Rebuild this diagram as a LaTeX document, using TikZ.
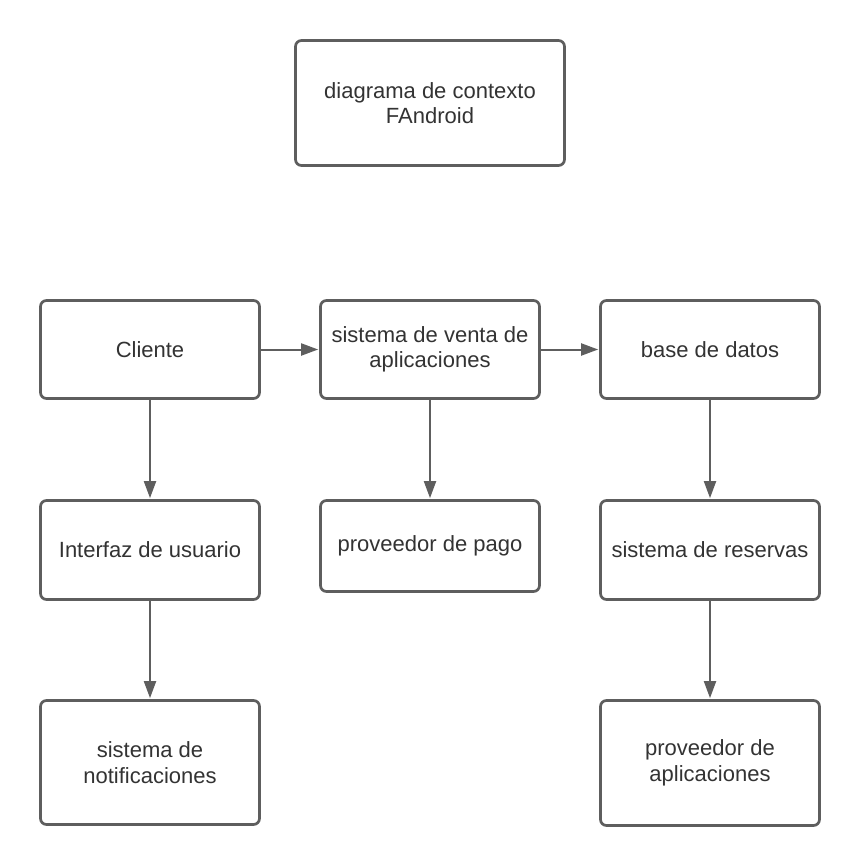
\documentclass[tikz,border=0pt]{standalone}
\usepackage{fontspec}
\setmainfont{Liberation Sans}
\usepackage{tikz}
\usetikzlibrary{arrows.meta,positioning}
\definecolor{boxgray}{HTML}{5E5E5E}
\definecolor{textgray}{HTML}{333333}
\tikzstyle{box} = [draw=boxgray, line width=2.7pt, rounded corners=6pt, fill=white, align=center, text=textgray, inner sep=0pt, minimum width=219pt, minimum height=98pt, font=\fontsize{22}{25.5}\selectfont]
\tikzstyle{flow} = [draw=boxgray, line width=2pt, -{Triangle[length=17pt,width=12pt]}, shorten >=1pt]

\begin{document}
\begin{tikzpicture}[x=1pt,y=-1pt]
    \useasboundingbox (0,0) rectangle (860,866);
    % title
    \node[box, minimum width=269pt, minimum height=125pt] (title) at (430,103) {diagrama de contexto\\FAndroid};
    % top row
    \node[box] (cliente) at (150,349.5) {Cliente};
    \node[box] (venta) at (430,349.5) {sistema de venta de\\aplicaciones};
    \node[box] (datos) at (710,349.5) {base de datos};
    % middle row
    \node[box, minimum height=99pt] (interfaz) at (150,550) {Interfaz de usuario};
    \node[box, minimum height=91pt] (pago) at (430,546) {proveedor de pago};
    \node[box, minimum height=99pt] (reservas) at (710,550) {sistema de reservas};
    % bottom row
    \node[box, minimum height=124pt] (notif) at (150,762.5) {sistema de\\notificaciones};
    \node[box, minimum height=125pt] (provapps) at (710,763) {proveedor de\\aplicaciones};
    \draw[flow] (cliente) -- (venta); \draw[flow] (venta) -- (datos);
    \draw[flow] (cliente) -- (interfaz); \draw[flow] (interfaz) -- (notif);
    \draw[flow] (venta) -- (pago);
    \draw[flow] (datos) -- (reservas); \draw[flow] (reservas) -- (provapps);
\end{tikzpicture}
\end{document}
